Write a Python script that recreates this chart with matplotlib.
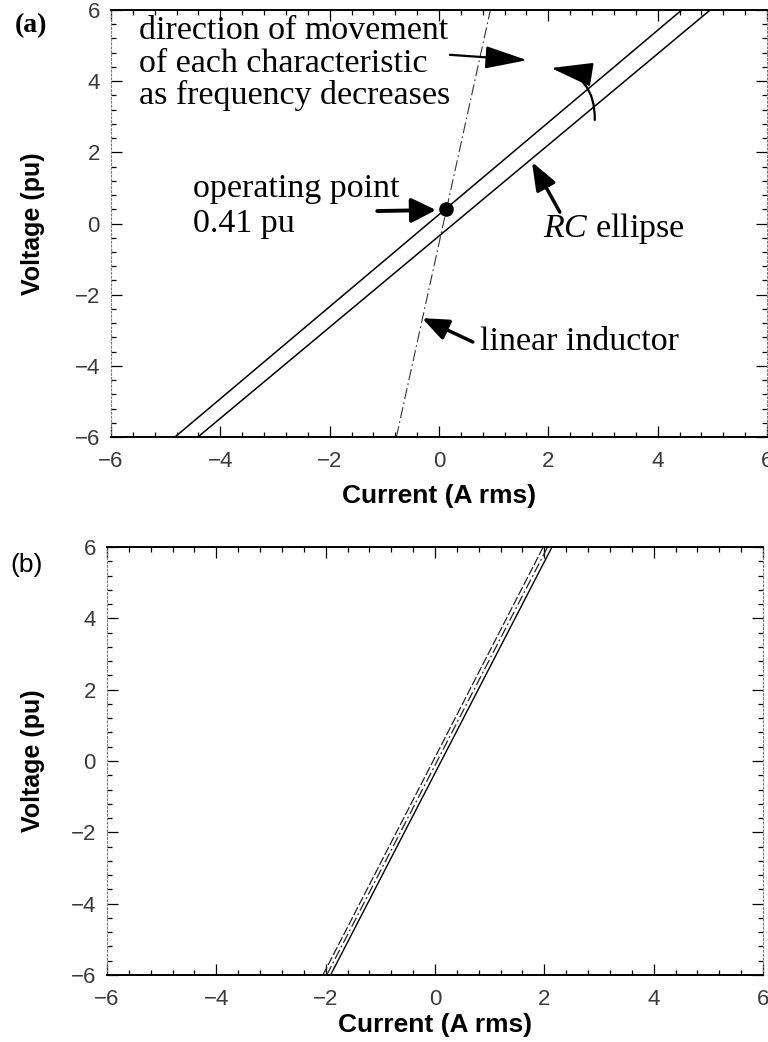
import matplotlib.pyplot as plt
from matplotlib.patches import ArrowStyle
from matplotlib.ticker import MultipleLocator

plt.rcParams['font.family'] = ['Liberation Sans', 'DejaVu Sans']
plt.rcParams['mathtext.fontset'] = 'custom'
plt.rcParams['mathtext.it'] = 'Liberation Serif:italic'
plt.rcParams['mathtext.rm'] = 'Liberation Serif'

# (a) edges of the thin RC ellipse and the linear inductor characteristic
ellipse_upper_i = [-4.83, 4.44]
ellipse_upper_v = [-6.0, 6.0]
ellipse_lower_i = [-4.41, 4.96]
ellipse_lower_v = [-6.0, 6.0]
inductor_i = [-0.78, 0.94]
inductor_v = [-6.0, 6.0]
op_current = 0.12
op_voltage = 0.41

# (b) characteristics after the frequency has dropped
low_left_i = [-2.05, 1.98]
low_mid_i = [-1.98, 2.06]
low_right_i = [-1.91, 2.14]
low_v = [-6.0, 6.0]

ticks = [-6, -4, -2, 0, 2, 4, 6]
direction_text = ['direction of movement', 'of each characteristic', 'as frequency decreases']

W, H = 768, 1042
fig = plt.figure(figsize=(W / 100, H / 100), dpi=100)


def px_axes(left, top, right, bottom):
    return fig.add_axes([left / W, 1 - bottom / H, (right - left) / W, (bottom - top) / H])


def style(ax):
    ax.set_xlim(-6, 6)
    ax.set_ylim(-6, 6)
    ax.set_xticks(ticks)
    ax.set_yticks(ticks)
    ax.xaxis.set_minor_locator(MultipleLocator(0.4))
    ax.yaxis.set_minor_locator(MultipleLocator(0.4))
    ax.tick_params(which='both', direction='in', top=True, right=True,
                   width=0.9, color='black', labelsize=16, labelcolor='#3a3a3a')
    ax.tick_params(which='major', length=8)
    ax.tick_params(which='minor', length=3.5)
    ax.tick_params(axis='x', pad=10)
    ax.tick_params(axis='y', pad=8)
    for side in ['left', 'right']:
        ax.spines[side].set_linestyle((0, (1.5, 2)))
        ax.spines[side].set_color('#777777')
        ax.spines[side].set_linewidth(0.8)
    for side in ['top', 'bottom']:
        ax.spines[side].set_linewidth(1.4)
    ax.set_xlabel('Current (A rms)', fontsize=19, fontweight='bold')
    ax.set_ylabel('Voltage (pu)', fontsize=18, fontweight='bold')


serif = dict(family=['Liberation Serif', 'DejaVu Serif'], fontsize=24.5, color='black')

# ---- panel (a)
ax1 = px_axes(111, 10, 767, 437)
style(ax1)
ax1.xaxis.set_label_coords(0.5, -0.11)
ax1.yaxis.set_label_coords(-0.10, 0.5)

ax1.plot(ellipse_upper_i, ellipse_upper_v, color='black', lw=1.1)
ax1.plot(ellipse_lower_i, ellipse_lower_v, color='black', lw=1.1)
ax1.plot(inductor_i, inductor_v, color='#333333', lw=0.8, dashes=(10, 3, 1.5, 3))
ax1.plot(op_current, op_voltage, 'o', ms=9.5, color='black', zorder=5)

for line, y in zip(direction_text, [5.18, 4.26, 3.36]):
    ax1.text(-5.49, y, line, va='baseline', ha='left', **serif)
ax1.text(-4.50, 0.74, 'operating point', va='baseline', ha='left', **serif)
ax1.text(-4.50, -0.24, f'{op_voltage:.2f} pu', va='baseline', ha='left', **serif)
ax1.text(1.90, -0.38, r'$\mathit{RC}$ ellipse', va='baseline', ha='left', **serif)
ax1.text(0.75, -3.56, 'linear inductor', va='baseline', ha='left', **serif)


def arrow(ax, tip, tail, head_len, head_w, lw, conn='arc3'):
    style_ = ArrowStyle('-|>', head_length=head_len, head_width=head_w)
    ax.annotate('', xy=tip, xytext=tail,
                arrowprops=dict(arrowstyle=style_, color='black', lw=lw,
                                shrinkA=0, shrinkB=0, connectionstyle=conn,
                                mutation_scale=10))


arrow(ax1, (1.61, 4.59), (0.20, 4.74), 2.6, 0.7, 1.6)
arrow(ax1, (2.05, 4.37), (2.85, 2.91), 2.6, 0.75, 1.6, conn='arc3,rad=0.43')
arrow(ax1, (-0.055, 0.38), (-1.13, 0.35), 1.5, 0.75, 2.8)
arrow(ax1, (1.70, 1.73), (2.21, 0.32), 1.7, 0.65, 2.5)
arrow(ax1, (-0.31, -2.66), (0.62, -3.33), 1.6, 0.65, 2.5)

# ---- panel (b)
ax2 = px_axes(107, 547, 763, 975)
style(ax2)
ax2.xaxis.set_label_coords(0.5, -0.089)
ax2.yaxis.set_label_coords(-0.095, 0.5)

ax2.plot(low_left_i, low_v, color='#222222', lw=0.9, dashes=(7, 2))
ax2.plot(low_mid_i, low_v, color='#222222', lw=0.9, dashes=(8, 2.5, 1.5, 2.5))
ax2.plot(low_right_i, low_v, color='black', lw=1.0)

fig.text(15 / W, 1 - 32 / H, '(a)', va='baseline', ha='left', fontsize=20,
         fontweight='bold', family=['Liberation Serif', 'DejaVu Serif'])
fig.text(10 / W, 1 - 572 / H, '(b)', va='baseline', ha='left', fontsize=19)

fig.savefig('out.png', dpi=100)
